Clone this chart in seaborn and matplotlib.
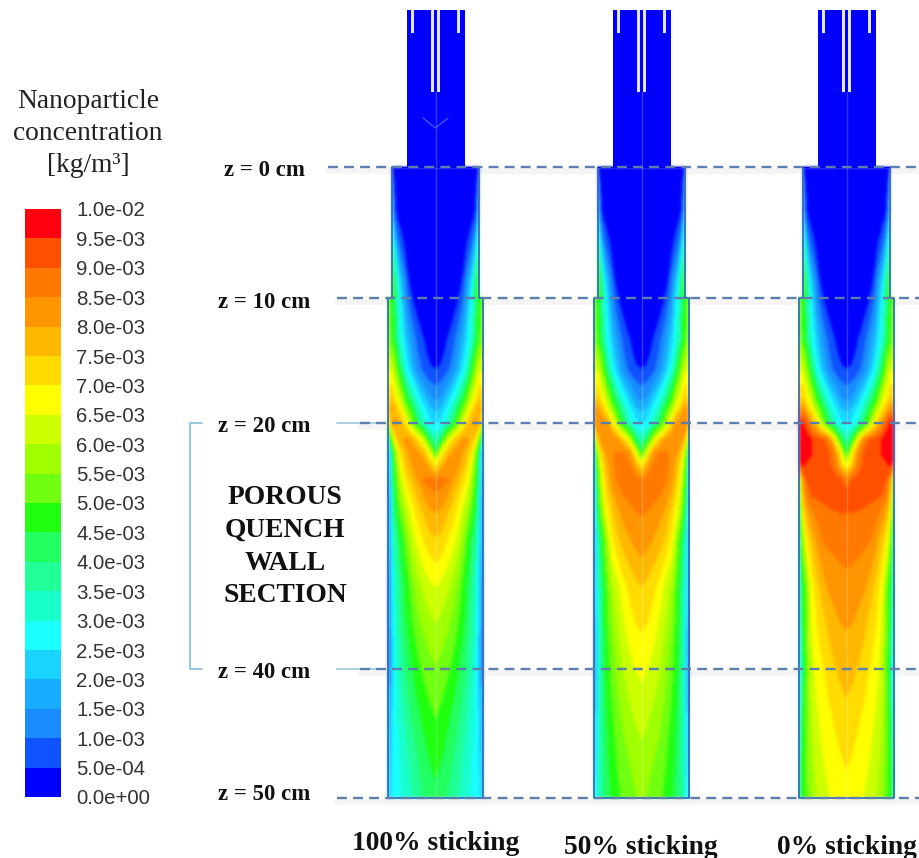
import numpy as np
import pandas as pd
import matplotlib
matplotlib.use("Agg")
import matplotlib.pyplot as plt
from matplotlib.colors import ListedColormap
from matplotlib.patches import Rectangle
import seaborn as sns

sns.set_theme(style="white")
plt.rcParams['font.family'] = ['Liberation Serif', 'DejaVu Serif']

# Colour bands of the legend, bottom to top
band_colors = ['#0000ff', '#0f52ff', '#1a8cff', '#18acff', '#18d4ff', '#1affff', '#18ffcc',
               '#20ff98', '#22ff60', '#20ff10', '#70ff10', '#a0ff00', '#ccff00', '#ffff00',
               '#ffdc00', '#ffb800', '#ff9500', '#ff7800', '#ff5000', '#ff0010']
band_labels = ['0.0e+00', '5.0e-04', '1.0e-03', '1.5e-03', '2.0e-03', '2.5e-03', '3.0e-03',
               '3.5e-03', '4.0e-03', '4.5e-03', '5.0e-03', '5.5e-03', '6.0e-03', '6.5e-03',
               '7.0e-03', '7.5e-03', '8.0e-03', '8.5e-03', '9.0e-03', '9.5e-03', '1.0e-02']
band_levels = [0.5 * i for i in range(21)]

# Concentration in 1e-3 kg/m3, columns = wall distance fraction, rows = image height
radial = [0, .12, .25, .38, .5, .62, .74, .85, .93, 1]
rows_upper = [167, 185, 215, 250, 280, 297, 298, 340, 355, 370]
rows_lower = [400, 410, 423, 440, 453, 465, 480, 495, 510, 540, 587, 623, 669, 718, 760, 798]

field_upper = [
    [0, 0, 0, 0, 0, 0, .05, .1, .2, .4],
    [0, 0, 0, 0, 0, .05, .1, .2, .45, 1.0],
    [0, 0, 0, 0, 0, .05, .15, .3, .6, 2.0],
    [0, 0, 0, 0, .05, .2, .6, 1.2, 2.5, 4.0],
    [0, 0, 0, .1, .25, .5, 1.5, 2.5, 3.8, 5.0],
    [0, 0, .05, .2, .35, .8, 1.8, 3.0, 4.3, 5.0],
    [0, 0, .05, .15, .5, 1.2, 2.5, 3.8, 4.8, 5.2],
    [.1, .2, .5, .85, 1.4, 2.1, 3.0, 4.2, 5.0, 5.4],
    [.25, .35, .65, 1.05, 1.65, 2.45, 3.5, 5.0, 5.8, 5.9],
    [.5, .6, .85, 1.3, 2.0, 2.85, 4.2, 5.6, 6.5, 6.4],
]

field_100 = [
    [1.4, 1.6, 2.2, 2.9, 3.8, 4.8, 6.2, 7.0, 7.6, 7.2],
    [1.9, 2.1, 2.7, 3.5, 4.6, 5.7, 6.9, 7.7, 8.1, 6.8],
    [2.4, 2.6, 3.2, 4.2, 5.6, 6.9, 7.7, 8.2, 7.6, 5.5],
    [3.4, 4.2, 6.2, 7.2, 7.9, 8.2, 7.8, 6.8, 4.8, 2.5],
    [4.5, 6.6, 7.6, 8.1, 8.2, 7.8, 7.0, 5.4, 3.2, 1.0],
    [6.8, 7.6, 8.35, 8.3, 8.0, 7.5, 6.6, 5.0, 3.0, .9],
    [8.7, 8.65, 8.52, 8.0, 7.5, 7.0, 6.1, 4.6, 2.8, .8],
    [8.45, 8.35, 8.0, 7.6, 7.1, 6.5, 5.7, 4.4, 2.7, .75],
    [8.05, 7.95, 7.6, 7.2, 6.7, 6.0, 5.2, 4.1, 2.6, .7],
    [7.45, 7.3, 7.0, 6.6, 6.1, 5.2, 4.4, 3.6, 2.3, .5],
    [6.5, 6.35, 6.1, 5.7, 5.2, 4.6, 3.9, 3.1, 2.2, .4],
    [6.0, 5.85, 5.6, 5.3, 4.9, 4.4, 3.8, 3.0, 2.2, .4],
    [5.45, 5.3, 5.1, 4.8, 4.4, 4.0, 3.5, 2.8, 2.0, .3],
    [5.0, 4.85, 4.6, 4.3, 4.0, 3.6, 3.2, 2.8, 2.3, 1.0],
    [4.65, 4.5, 4.25, 3.95, 3.65, 3.3, 3.0, 2.75, 2.4, 1.5],
    [4.35, 4.2, 4.0, 3.7, 3.45, 3.2, 2.95, 2.75, 2.5, 1.8],
]

field_50 = [
    [1.4, 1.6, 2.2, 2.9, 3.8, 4.8, 6.2, 7.0, 7.6, 7.0],
    [1.9, 2.1, 2.7, 3.5, 4.6, 5.7, 6.9, 7.7, 8.2, 8.1],
    [2.4, 2.6, 3.2, 4.2, 5.6, 7.0, 8.1, 8.4, 8.4, 8.0],
    [3.4, 4.2, 6.2, 7.4, 8.1, 8.45, 8.4, 8.1, 7.0, 4.5],
    [4.5, 6.5, 8.1, 8.55, 8.55, 8.45, 8.05, 7.2, 5.4, 2.8],
    [6.8, 7.8, 8.5, 8.65, 8.6, 8.4, 7.7, 6.6, 4.8, 2.4],
    [8.6, 8.7, 8.7, 8.65, 8.55, 8.2, 7.4, 6.2, 4.4, 2.0],
    [8.65, 8.65, 8.6, 8.5, 8.25, 7.8, 7.1, 5.8, 4.0, 1.8],
    [8.55, 8.5, 8.4, 8.2, 7.9, 7.4, 6.7, 5.4, 3.7, 1.6],
    [8.3, 8.15, 7.95, 7.7, 7.4, 6.9, 5.6, 4.2, 3.0, 1.2],
    [7.48, 7.35, 7.1, 6.8, 6.3, 5.9, 4.9, 3.8, 2.8, 1.0],
    [7.1, 7.0, 6.75, 6.4, 6.0, 5.5, 4.8, 3.7, 2.7, .9],
    [6.6, 6.5, 6.3, 6.0, 5.6, 5.2, 4.6, 3.6, 2.5, .5],
    [6.2, 6.05, 5.85, 5.6, 5.3, 4.9, 4.4, 3.6, 2.7, 1.0],
    [5.8, 5.7, 5.5, 5.3, 5.05, 4.7, 4.3, 3.6, 2.9, 1.6],
    [5.55, 5.45, 5.3, 5.1, 4.85, 4.55, 4.2, 3.6, 3.0, 2.0],
]

field_0 = [
    [1.4, 1.6, 2.2, 2.9, 3.8, 4.8, 6.2, 7.0, 7.6, 7.4],
    [1.9, 2.1, 2.7, 3.5, 4.6, 5.7, 6.9, 7.8, 8.4, 8.6],
    [2.4, 2.6, 3.2, 4.2, 5.6, 7.0, 8.1, 9.2, 9.55, 9.8],
    [3.4, 4.5, 6.8, 8.6, 9.1, 9.3, 9.5, 9.75, 9.8, 9.8],
    [4.5, 6.7, 8.4, 9.05, 9.2, 9.35, 9.52, 9.65, 9.7, 9.7],
    [6.3, 7.4, 8.7, 9.15, 9.25, 9.3, 9.4, 9.45, 9.55, 9.0],
    [8.6, 9.05, 9.2, 9.25, 9.25, 9.2, 9.15, 8.95, 7.6, 4.8],
    [9.15, 9.2, 9.2, 9.2, 9.15, 9.1, 9.0, 8.5, 7.2, 4.2],
    [9.03, 9.03, 9.0, 8.95, 8.85, 8.7, 8.4, 7.8, 6.6, 3.5],
    [8.72, 8.68, 8.65, 8.6, 8.5, 8.1, 7.5, 6.8, 5.4, 3.0],
    [8.35, 8.3, 8.2, 8.05, 7.7, 7.3, 6.7, 5.2, 4.2, 2.8],
    [8.05, 8.0, 7.85, 7.6, 7.3, 7.0, 6.5, 5.1, 4.1, 2.7],
    [7.7, 7.6, 7.45, 7.2, 6.95, 6.7, 6.2, 5.0, 3.6, 2.2],
    [7.35, 7.25, 7.05, 6.85, 6.7, 6.4, 6.0, 5.2, 4.1, 2.8],
    [7.05, 6.95, 6.8, 6.65, 6.45, 6.2, 5.8, 5.2, 4.4, 3.4],
    [6.85, 6.75, 6.6, 6.45, 6.25, 6.0, 5.6, 5.0, 4.5, 3.6],
]

columns = [('100% sticking', 435.5, 436, 843, field_100),
           ('50% sticking', 641.5, 641, 847, field_50),
           ('0% sticking', 846.5, 847, 847, field_0)]

z_labels = ['z = 0 cm', 'z = 10 cm', 'z = 20 cm', 'z = 40 cm', 'z = 50 cm']
z_rows = [167, 298, 423, 669, 798]
z_text_rows = [170, 303, 426, 673, 795]
z_line_start = [328, 337, 360, 360, 337]


# the reference is a soft scan, so blur the painted bands a little
def soften(image, dpi, sigma=1.5):
    size = int(3 * sigma)
    kernel = np.exp(-0.5 * (np.arange(-size, size + 1) / sigma) ** 2)
    kernel /= kernel.sum()
    padded = np.pad(image, ((size, size), (size, size), (0, 0)))
    padded[..., :3] *= padded[..., 3:4]
    for axis in (0, 1):
        padded = np.apply_along_axis(np.convolve, axis, padded, kernel, mode='same')
    alpha = np.clip(padded[..., 3:4], 1e-4, 1)
    padded[..., :3] = np.clip(padded[..., :3] / alpha, 0, 1)
    return padded, -size, -size


fig = plt.figure(figsize=(9.19, 8.58), dpi=100)
ax = fig.add_axes([0, 0, 1, 1])
ax.set_xlim(0, 919)
ax.set_ylim(858, 0)
ax.axis('off')

rows = np.array(rows_upper + rows_lower, dtype=float)
half_width = np.where(rows < 298, 43.5, 47.5)
radial_full = np.concatenate([-np.array(radial)[::-1], np.array(radial)[1:]])

for name, center, text_x, text_y, lower in columns:
    values = np.array(field_upper + lower)
    values_full = np.hstack([values[:, ::-1], values[:, 1:]])
    grid_x = center + np.outer(half_width, radial_full)
    grid_y = np.repeat(rows[:, None], len(radial_full), axis=1)

    # nozzle above z = 0
    ax.add_patch(Rectangle((center - 29, 10), 58, 157, color='#0000ff', lw=0))
    for left, bottom in [(-24.5, 33), (-4.8, 92), (1.8, 92), (21.5, 33)]:
        ax.add_patch(Rectangle((center + left, 10), 3, bottom - 10, color='#e4e6ee', lw=0, zorder=3))

    bands = ax.contourf(grid_x, grid_y, values_full, levels=band_levels, colors=band_colors, zorder=2)
    bands.set_agg_filter(soften)

    # wall outline and axis line
    wall_x = [-43.5, -43.5, -47.5, -47.5, 47.5, 47.5, 43.5, 43.5]
    wall_y = [167, 298, 298, 798, 798, 298, 298, 167]
    ax.plot([center + w for w in wall_x], wall_y, color='#2a62bd', lw=1.2, zorder=4)
    ax.plot([center - 43.5, center + 43.5], [167, 167], color='#0000e0', lw=1, zorder=4)
    ax.plot([center, center], [92, 798], color='white', alpha=0.22, lw=1, zorder=4)

    ax.text(text_x, text_y, name, ha='center', va='center', fontsize=19.8, fontweight='bold', color='#111111')

# faint mark inside the first nozzle
ax.plot([423, 435.5, 448], [118, 128, 118], color='#4a6cff', lw=0.8, zorder=4)

# section lines and their labels
for label, y, text_y, start in zip(z_labels, z_rows, z_text_rows, z_line_start):
    ax.plot([start, 919], [y + 4, y + 4], color='#777777', alpha=0.08, lw=4, zorder=1)
    ax.plot([start, 919], [y, y], color='#5d7fae', lw=1.7, dashes=(4.2, 2.6), zorder=5)
    ax.text(264, text_y, label, ha='center', va='center', fontsize=16.4, fontweight='bold', color='#111111')

ax.plot([337, 385], [423, 423], color='#9cc8dc', lw=1.2, zorder=1)
ax.plot([337, 385], [669, 669], color='#9cc8dc', lw=1.2, zorder=1)
ax.plot([202, 190, 190, 202], [423, 423, 669, 669], color='#8fc4dc', lw=1.3)

for line, y in zip(['POROUS', 'QUENCH', 'WALL', 'SECTION'], [498, 530, 563, 596]):
    ax.text(285, y, line, ha='center', va='center', fontsize=19.8, fontweight='bold', color='#111111')

for line, y in zip(['Nanoparticle', 'concentration', '[kg/m³]'], [101, 133, 166]):
    ax.text(88, y, line, ha='center', va='center', fontsize=19.8, color='#222222')

# legend as a one column heatmap
bar_ax = fig.add_axes([25 / 919, 1 - 797 / 858, 36 / 919, 588 / 858])
cells = pd.DataFrame({'band': list(range(len(band_colors)))[::-1]})
sns.heatmap(cells, ax=bar_ax, cmap=ListedColormap(band_colors), cbar=False, xticklabels=False, vmin=-0.5, vmax=19.5)
bar_ax.yaxis.tick_right()
bar_ax.set_yticks(range(21))
bar_ax.set_yticklabels(band_labels[::-1], rotation=0, fontsize=14.7, color='#333333', family='Liberation Sans')
bar_ax.tick_params(axis='y', length=0, pad=11)

fig.savefig('out.png', dpi=100)
